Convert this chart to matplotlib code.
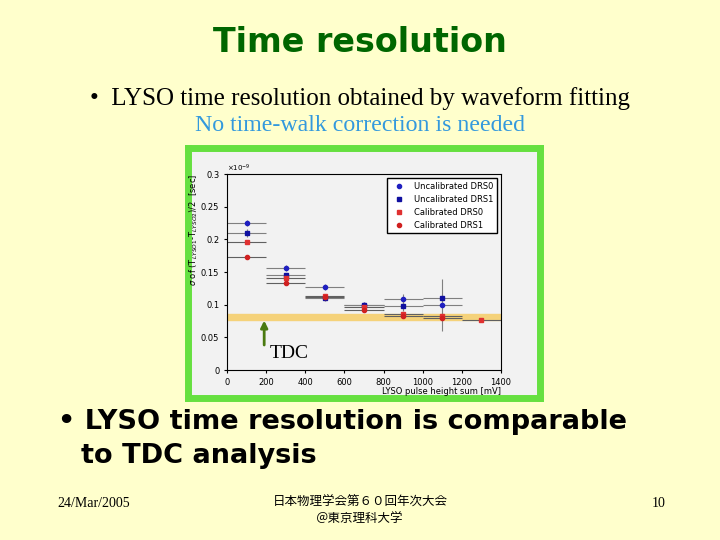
import matplotlib
matplotlib.use("Agg")
import matplotlib.pyplot as plt

x = [100, 300, 500, 700, 900, 1100, 1300]
uncal0 = [0.225, 0.156, 0.127, 0.100, 0.108, 0.099]
uncal1 = [0.210, 0.145, 0.110, 0.099, 0.098, 0.110]
cal0 = [0.196, 0.141, 0.114, 0.096, 0.085, 0.083, 0.077]
cal1 = [0.173, 0.133, 0.112, 0.092, 0.083, 0.080]
err_u0 = [0.004, 0.004, 0.004, 0.004, 0.008, 0.040]
err_u1 = [0.006, 0.004, 0.004, 0.004, 0.008, 0.006]
tdc_band = (0.076, 0.086)

W, H = 720, 540
fig = plt.figure(figsize=(7.2, 5.4), dpi=100, facecolor="#FFFFCC")

def px(x0, y0, x1, y1):
    return [x0 / W, 1 - y1 / H, (x1 - x0) / W, (y1 - y0) / H]

frame = fig.add_axes(px(188, 148, 540, 398))
frame.set_xticks([]); frame.set_yticks([])
frame.set_facecolor("#F2F2F2")
for s in frame.spines.values():
    s.set_color("#66E040"); s.set_linewidth(5)

ax = fig.add_axes(px(227, 174, 501, 370))
ax.set_facecolor("#F2F2F2")
ax.axhspan(*tdc_band, color="#F5D27A", zorder=0)
n = len(uncal0)
ax.errorbar(x[:n], uncal0, xerr=100, yerr=err_u0, fmt="o", ms=3, color="#2020C0", ecolor="#808080", elinewidth=0.8, label="Uncalibrated DRS0")
ax.errorbar(x[:n], uncal1, xerr=100, yerr=err_u1, fmt="s", ms=3, color="#1010A0", ecolor="#808080", elinewidth=0.8, label="Uncalibrated DRS1")
ax.errorbar(x[:len(cal0)], cal0, xerr=100, yerr=0.003, fmt="s", ms=2.5, color="#E03030", ecolor="#606060", elinewidth=0.8, label="Calibrated DRS0")
ax.errorbar(x[:len(cal1)], cal1, xerr=100, yerr=0.003, fmt="o", ms=3, color="#D02020", ecolor="#606060", elinewidth=0.8, label="Calibrated DRS1")
ax.set_xlim(0, 1400); ax.set_ylim(0, 0.3)
ax.set_xticks([0, 200, 400, 600, 800, 1000, 1200, 1400])
ax.set_yticks([0, 0.05, 0.1, 0.15, 0.2, 0.25, 0.3])
ax.set_yticklabels(["0", "0.05", "0.1", "0.15", "0.2", "0.25", "0.3"])
ax.tick_params(labelsize=6, length=2)
ax.text(0.0, 1.0, "×10$^{-9}$", transform=ax.transAxes, fontsize=5, va="bottom")
ax.set_xlabel("LYSO pulse height sum [mV]", fontsize=6, loc="right", labelpad=0)
ax.set_ylabel(r"$\sigma$ of (T$_{LYSO1}$-T$_{LYSO2}$)/2  [sec]", fontsize=6, loc="top", labelpad=1)
h, l = ax.get_legend_handles_labels()
ax.legend([hh[0] for hh in h], l, loc="upper right", fontsize=6, fancybox=False, edgecolor="black", framealpha=1, facecolor="white")
ax.annotate("", xy=(190, 0.080), xytext=(190, 0.034),
            arrowprops=dict(arrowstyle="-|>", color="#4A7A10", lw=2))
ax.text(220, 0.018, "TDC", fontsize=14, family="Liberation Serif")

fig.text(0.5, 0.922, "Time resolution", ha="center", va="center", fontsize=24, weight="bold", color="#006600")
fig.text(0.5, 0.818, "•  LYSO time resolution obtained by waveform fitting", ha="center", va="center", fontsize=18, family="Liberation Serif")
fig.text(0.5, 0.767, "No time-walk correction is needed", ha="center", va="center", fontsize=17.2, family="Liberation Serif", color="#3399DD")
fig.text(0.08, 0.219, "• LYSO time resolution is comparable", va="center", fontsize=19.5, weight="bold", family="DejaVu Sans")
fig.text(0.113, 0.156, "to TDC analysis", va="center", fontsize=19.5, weight="bold", family="DejaVu Sans")
fig.text(0.08, 0.068, "24/Mar/2005", va="center", fontsize=10, family="Liberation Serif")
fig.text(0.5, 0.055, "日本物理学会第６０回年次大会\n＠東京理科大学", ha="center", va="center", fontsize=9, family=["Noto Sans CJK JP", "DejaVu Sans"], linespacing=1.3)
fig.text(0.905, 0.068, "10", va="center", fontsize=10, family="Liberation Serif")

fig.savefig("out.png", dpi=100, facecolor=fig.get_facecolor())
